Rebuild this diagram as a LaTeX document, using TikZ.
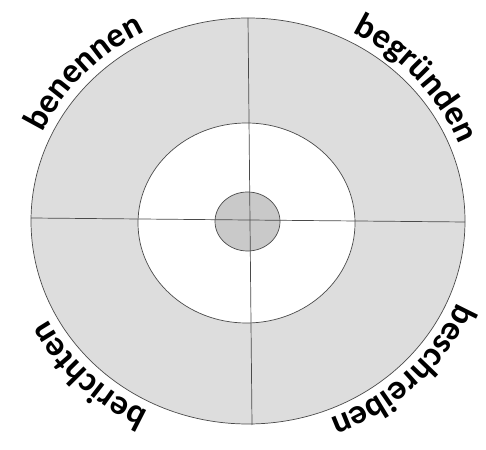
\documentclass[tikz,border=0pt]{standalone}
\usepackage{fontspec}
\setmainfont{Carlito}
\usetikzlibrary{decorations.text,calc}
\definecolor{ringgray}{HTML}{DDDDDD}
\definecolor{coregray}{HTML}{C9C9C9}
\definecolor{linegray}{HTML}{4A4A4A}
\tikzset{
  ring/.style={draw=linegray, line width=0.7bp},
  cross/.style={draw=linegray, line width=0.7bp},
  arclabel/.style={decorate,
     decoration={text along path, text align=center,
       text={|\fontsize{35}{35}\selectfont\bfseries|#1}}}
}
\begin{document}
\begin{tikzpicture}[x=1bp,y=1bp]
\useasboundingbox (0,0) rectangle (486,450);
\fill[white] (0,0) rectangle (486,450);
% rings
\path[ring, fill=ringgray] (248,229) ellipse [x radius=217, y radius=203];
\path[ring, fill=white] (246.5,227) ellipse [x radius=108.5, y radius=100];
\path[ring, fill=coregray] (247.5,228.5) ellipse [x radius=32.5, y radius=29.5];
% cross lines
\coordinate (vt) at (248,432);
\coordinate (vb) at (252,25);
\coordinate (hl) at (31,232);
\coordinate (hr) at (465,228);
\draw[cross] (vt) -- (vb);
\draw[cross] (hl) -- (hr);
% labels along the outer ring (clockwise)
\def\rx{226}\def\ry{212}
\path[arclabel=benennen] ($(248,229)+(182:\rx bp and \ry bp)$) arc[start angle=182, end angle=92, x radius=\rx, y radius=\ry];
\path[arclabel=begründen] ($(248,229)+(86:\rx bp and \ry bp)$) arc[start angle=86, end angle=-4, x radius=\rx, y radius=\ry];
\path[arclabel=beschreiben] ($(248,229)+(0:\rx bp and \ry bp)$) arc[start angle=0, end angle=-90, x radius=\rx, y radius=\ry];
\path[arclabel=berichten] ($(248,229)+(270:\rx bp and \ry bp)$) arc[start angle=270, end angle=180, x radius=\rx, y radius=\ry];
\end{tikzpicture}
\end{document}
